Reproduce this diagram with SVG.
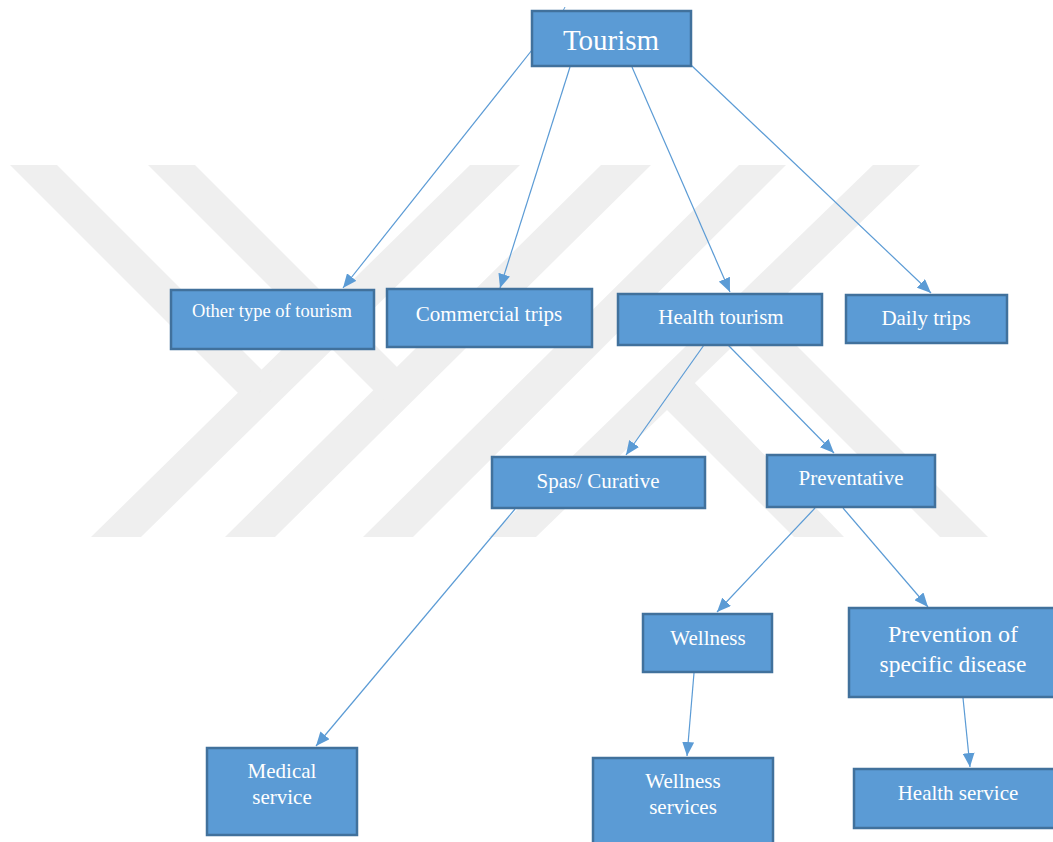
<svg xmlns="http://www.w3.org/2000/svg" width="1053" height="842" viewBox="0 0 1053 842">
<style>
.box{fill:#5b9bd5;stroke:#41719c;stroke-width:2.5}
.lbl{fill:#ffffff;font-family:"Liberation Serif","Times New Roman",serif;text-anchor:middle}
.wm{fill:#efefef}
.con{stroke:#5b9bd5;stroke-width:1.2;fill:none;marker-end:url(#arr)}
</style>
<defs>
<marker id="arr" markerUnits="userSpaceOnUse" markerWidth="14" markerHeight="12" refX="14" refY="6" orient="auto">
<path d="M0,0 L14,6 L0,12 z" fill="#5b9bd5"/>
</marker>
</defs>
<rect width="1053" height="842" fill="#ffffff"/>
<g id="watermark">
<polygon class="wm" points="470,165 520,165 141,537 91,537"/>
<polygon class="wm" points="10,165 57,165 272,380 248,403"/>
<polygon class="wm" points="601,165 651,165 275,537 225,537"/>
<polygon class="wm" points="148,165 195,165 406,376 383,400"/>
<polygon class="wm" points="739,165 786,165 413,537 363,537"/>
<polygon class="wm" points="873,165 920,165 536,537 489,537"/>
<polygon class="wm" points="759,308 988,537 940,537 733,330"/>
<polygon class="wm" points="690,378 844,537 794,537 660,403"/>
</g>
<g id="connectors">
<line class="con" x1="532" y1="50" x2="343" y2="288"/>
<line class="con" x1="570" y1="67" x2="500" y2="288"/>
<line class="con" x1="632" y1="67" x2="730" y2="292"/>
<line class="con" x1="691" y1="65" x2="931" y2="293"/>
<line class="con" x1="704" y1="345" x2="626" y2="455"/>
<line class="con" x1="728" y1="345" x2="834" y2="453"/>
<line class="con" x1="515" y1="509" x2="316" y2="746"/>
<line class="con" x1="815" y1="508" x2="717" y2="612"/>
<line class="con" x1="843" y1="508" x2="928" y2="607"/>
<line class="con" x1="694" y1="673" x2="687" y2="756"/>
<line class="con" x1="963" y1="698" x2="970" y2="767"/>
<line x1="565" y1="7" x2="562" y2="13" stroke="#5b9bd5" stroke-width="1"/>
</g>
<g id="tourism">
<rect class="box" x="532" y="11" width="159" height="55"/>
<text class="lbl" x="611" y="50" font-size="29">Tourism</text>
</g>
<g id="other">
<rect class="box" x="171" y="290" width="203" height="59"/>
<text class="lbl" x="272" y="317" font-size="18.5">Other type of tourism</text>
</g>
<g id="commercial">
<rect class="box" x="387" y="289" width="205" height="58"/>
<text class="lbl" x="489" y="321" font-size="21">Commercial trips</text>
</g>
<g id="health">
<rect class="box" x="618" y="294" width="204" height="51"/>
<text class="lbl" x="721" y="324" font-size="21">Health tourism</text>
</g>
<g id="daily">
<rect class="box" x="846" y="295" width="161" height="48"/>
<text class="lbl" x="926" y="325" font-size="21">Daily trips</text>
</g>
<g id="spas">
<rect class="box" x="492" y="457" width="213" height="51"/>
<text class="lbl" x="598" y="488" font-size="21">Spas/ Curative</text>
</g>
<g id="preventative">
<rect class="box" x="767" y="455" width="168" height="52"/>
<text class="lbl" x="851" y="485" font-size="21">Preventative</text>
</g>
<g id="wellness">
<rect class="box" x="643" y="614" width="129" height="58"/>
<text class="lbl" x="708" y="645" font-size="21">Wellness</text>
</g>
<g id="prevention">
<rect class="box" x="849" y="608" width="210" height="89"/>
<text class="lbl" x="953" y="642" font-size="24">Prevention of</text>
<text class="lbl" x="953" y="672" font-size="23.5">specific disease</text>
</g>
<g id="medical">
<rect class="box" x="207" y="748" width="150" height="87"/>
<text class="lbl" x="282" y="778" font-size="21">Medical</text>
<text class="lbl" x="282" y="804" font-size="21">service</text>
</g>
<g id="wellness-services">
<rect class="box" x="593" y="758" width="180" height="90"/>
<text class="lbl" x="683" y="788" font-size="21">Wellness</text>
<text class="lbl" x="683" y="814" font-size="21">services</text>
</g>
<g id="health-service">
<rect class="box" x="854" y="769" width="205" height="59"/>
<text class="lbl" x="958" y="800" font-size="21">Health service</text>
</g>
</svg>
